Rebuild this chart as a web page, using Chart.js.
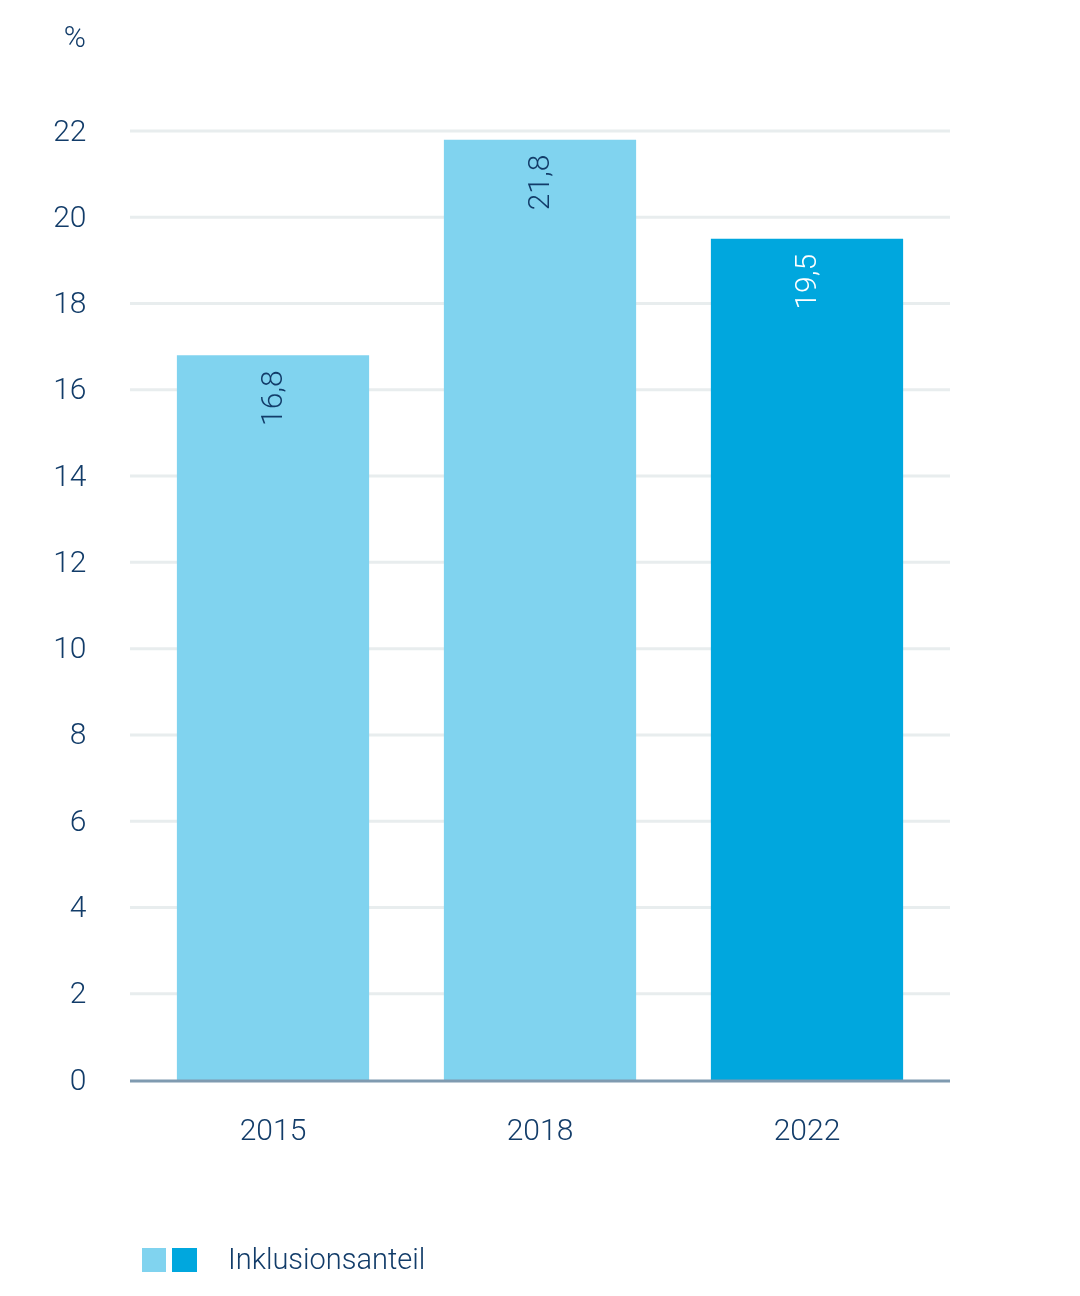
<!DOCTYPE html>
<html>
<head>
<meta charset="utf-8">
<script src="https://cdn.jsdelivr.net/npm/chart.js@4"></script>
<style>
  html,body{margin:0;padding:0;background:#fff}
  #wrap{width:1080px;height:1296px;position:relative}
</style>
</head>
<body>
<div id="wrap"><canvas id="c" width="1080" height="1296"></canvas></div>
<script>
/* data */
const YEARS   = ['2015','2018','2022'];
const SHARE   = [16.8, 21.8, 19.5];
const COLORS  = ['#80d3ef','#80d3ef','#00a7de'];
const LABEL_C = ['#123c69','#123c69','#ffffff'];
const Y_TICKS = [0,2,4,6,8,10,12,14,16,18,20,22];
const UNIT    = '%';
const LEGEND  = 'Inklusionsanteil';

const NAVY = '#123c69';
const FONT = 'Roboto, "Liberation Sans", sans-serif';

/* grid lines reach a bit past the bars on each side */
const gridPlugin = {
  id:'grid',
  beforeDatasetsDraw(chart){
    const {ctx, scales:{y}} = chart;
    ctx.save();
    ctx.strokeStyle = '#e8edee'; ctx.lineWidth = 3;
    Y_TICKS.forEach(v=>{
      if (v===0) return;
      const py = y.getPixelForValue(v);
      ctx.beginPath(); ctx.moveTo(130,py); ctx.lineTo(950,py); ctx.stroke();
    });
    ctx.restore();
  },
  afterDatasetsDraw(chart){
    const {ctx, scales:{y}} = chart;
    ctx.save();
    /* zero line */
    const py = y.getPixelForValue(0)+1;
    ctx.strokeStyle = '#7f9ab0'; ctx.lineWidth = 3;
    ctx.beginPath(); ctx.moveTo(130,py); ctx.lineTo(950,py); ctx.stroke();

    /* rotated value labels */
    const meta = chart.getDatasetMeta(0);
    ctx.font = `300 30px ${FONT}`;
    ctx.textAlign = 'right'; ctx.textBaseline = 'middle';
    meta.data.forEach((bar,i)=>{
      ctx.save();
      ctx.translate(bar.x, bar.y+15);
      ctx.rotate(-Math.PI/2);
      ctx.fillStyle = LABEL_C[i];
      ctx.fillText(SHARE[i].toLocaleString('de-DE'), 0, 1);
      ctx.restore();
    });

    /* unit + legend */
    ctx.fillStyle = NAVY;
    ctx.font = `300 30px ${FONT}`;
    ctx.textAlign = 'right';
    ctx.fillText(UNIT, 86, 39);
    ctx.fillStyle = COLORS[0]; ctx.fillRect(142,1248,24,24);
    ctx.fillStyle = COLORS[2]; ctx.fillRect(172,1248,25,24);
    ctx.fillStyle = NAVY; ctx.textAlign = 'left';
    ctx.font = `300 29px ${FONT}`;
    ctx.fillText(LEGEND, 228, 1262);
    ctx.restore();
  }
};

new Chart(document.getElementById('c'),{
  type:'bar',
  data:{
    labels:YEARS,
    datasets:[{data:SHARE, backgroundColor:COLORS, borderWidth:0,
               barPercentage:0.72, categoryPercentage:1}]
  },
  options:{
    responsive:false, animation:false,
    layout:{padding:{top:131,right:139.5,bottom:0,left:0}},
    plugins:{legend:{display:false}, tooltip:{enabled:false}},
    scales:{
      x:{
        grid:{display:false}, border:{display:false},
        ticks:{color:NAVY, font:{family:FONT, size:30, weight:300}, padding:26},
        afterFit:s=>{ s.height = 216; }
      },
      y:{
        min:0, max:22,
        grid:{display:false, drawTicks:false}, border:{display:false},
        ticks:{stepSize:2, color:NAVY, font:{family:FONT, size:30, weight:300},
               padding:53, labelOffset:2},
        afterFit:s=>{ s.width = 139.5; }
      }
    }
  },
  plugins:[gridPlugin]
});
</script>
</body>
</html>
